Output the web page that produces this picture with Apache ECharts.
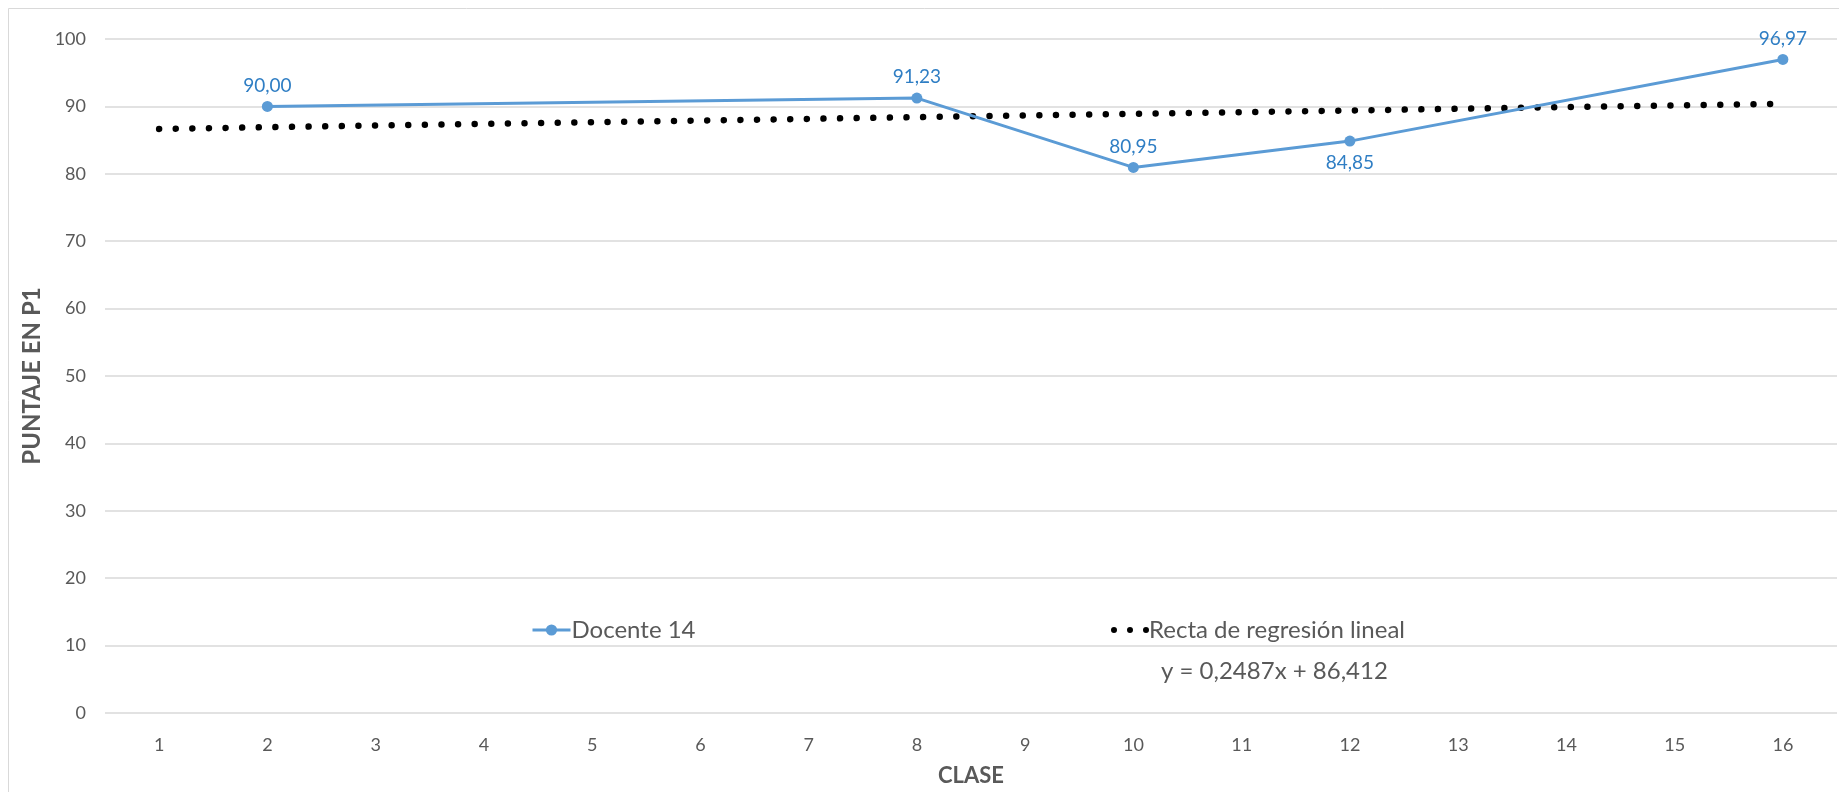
<!DOCTYPE html>
<html>
<head>
<meta charset="utf-8">
<script src="https://cdn.jsdelivr.net/npm/echarts@6/dist/echarts.min.js"></script>
<style>
  html, body { margin: 0; padding: 0; background: #fff; }
  #chart { width: 1839px; height: 792px; }
</style>
</head>
<body>
<div id="chart"></div>
<script>
// Class numbers on the horizontal axis
const clases = ['1','2','3','4','5','6','7','8','9','10','11','12','13','14','15','16'];
// Scores of "Docente 14" (only the classes that were evaluated)
const docente14 = [null, 90.00, null, null, null, null, null, 91.23, null, 80.95, null, 84.85, null, null, null, 96.97];
// Linear regression coefficients: y = slope * x + intercept
const regSlope = [0.2487];
const regIntercept = [86.412];
const yTicks = [0, 10, 20, 30, 40, 50, 60, 70, 80, 90, 100];

const FONT = 'Lato, "Open Sans", "Noto Sans", sans-serif';
const GRAY = '#595959';
const BLUE = '#5b9bd5';
const LABEL_BLUE = '#2f7ec4';

// Regression line endpoints at the first and last class
const regLine = clases.map(function (c, i) {
  if (i === 0 || i === clases.length - 1) {
    return +(regSlope[0] * Number(c) + regIntercept[0]).toFixed(3);
  }
  return null;
});

// Label placement: below for the point at class 12, above otherwise
const docenteData = docente14.map(function (v, i) {
  if (v === null) return null;
  const below = clases[i] === '12';
  return {
    value: v,
    label: { position: below ? 'bottom' : 'top', distance: below ? 7 : 6 }
  };
});

// Three round dots used as the legend marker of the regression line
const dotsIcon = 'path://M0,3a3,3 0 1,0 6,0a3,3 0 1,0 -6,0Z' +
  'M16,3a3,3 0 1,0 6,0a3,3 0 1,0 -6,0Z' +
  'M32,3a3,3 0 1,0 6,0a3,3 0 1,0 -6,0Z';

const chart = echarts.init(document.getElementById('chart'));
chart.setOption({
  animation: false,
  backgroundColor: '#fff',
  grid: { left: 105, right: 2, top: 39, bottom: 74 },
  legend: [
    {
      data: ['Docente 14'],
      left: 526, top: 613,
      itemWidth: 38, itemHeight: 14, itemGap: 2,
      lineStyle: { width: 3 },
      textStyle: { color: GRAY, fontFamily: FONT, fontSize: 24, padding: [0, 0, 0, -4] }
    },
    {
      data: [{ name: 'Recta de regresión lineal', icon: dotsIcon, itemStyle: { color: '#000' } }],
      left: 1106, top: 613,
      itemWidth: 38, itemHeight: 6,
      textStyle: { color: GRAY, fontFamily: FONT, fontSize: 24, padding: [0, 0, 0, -5] }
    }
  ],
  xAxis: {
    type: 'category',
    data: clases,
    boundaryGap: true,
    name: 'CLASE',
    nameLocation: 'middle',
    nameGap: 52,
    nameTextStyle: { color: GRAY, fontFamily: FONT, fontSize: 22, fontWeight: 'bold' },
    axisLine: { show: false },
    axisTick: { show: false },
    axisLabel: { color: GRAY, fontFamily: FONT, fontSize: 18, margin: 23 }
  },
  yAxis: {
    type: 'value',
    min: yTicks[0],
    max: yTicks[yTicks.length - 1],
    interval: 10,
    name: 'PUNTAJE EN P1',
    nameLocation: 'middle',
    nameGap: 58,
    nameTextStyle: { color: GRAY, fontFamily: FONT, fontSize: 24, fontWeight: 'bold' },
    axisLine: { show: false },
    axisTick: { show: false },
    axisLabel: { color: GRAY, fontFamily: FONT, fontSize: 18, margin: 19 },
    splitLine: { lineStyle: { color: '#d9d9d9', width: 1.5 } }
  },
  series: [
    {
      name: 'Recta de regresión lineal',
      type: 'line',
      data: regLine,
      connectNulls: true,
      symbol: 'none',
      itemStyle: { color: '#000' },
      lineStyle: { color: '#000', width: 6.5, type: [0.01, 16.6], cap: 'round' },
      z: 2
    },
    {
      name: 'Docente 14',
      type: 'line',
      data: docenteData,
      connectNulls: true,
      symbol: 'circle',
      symbolSize: 11,
      itemStyle: { color: BLUE },
      lineStyle: { color: BLUE, width: 3 },
      label: {
        show: true,
        color: LABEL_BLUE,
        fontFamily: FONT,
        fontSize: 19,
        formatter: function (p) { return p.value.toFixed(2).replace('.', ','); }
      },
      z: 3
    }
  ],
  graphic: [
    {
      type: 'rect',
      shape: { x: 8.5, y: 8.5, width: 1840, height: 800 },
      style: { fill: 'none', stroke: '#d9d9d9', lineWidth: 1 },
      silent: true
    },
    {
      type: 'text',
      left: 1161, top: 659,
      style: {
        text: 'y = ' + String(regSlope[0]).replace('.', ',') + 'x + ' + String(regIntercept[0]).replace('.', ','),
        fill: GRAY, font: '24px ' + FONT
      }
    }
  ]
});
</script>
</body>
</html>
